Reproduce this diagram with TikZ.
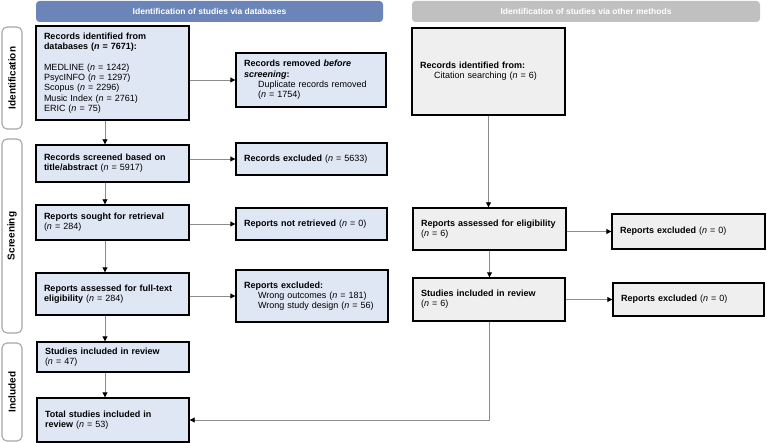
\documentclass[tikz,border=0pt]{standalone}
\usepackage{fontspec}
\setmainfont{Liberation Sans}
\usetikzlibrary{arrows.meta}
\definecolor{hdrblue}{HTML}{6B85B8}
\definecolor{hdrgray}{HTML}{C0C0C0}
\definecolor{boxblue}{HTML}{DFE6F4}
\definecolor{boxgray}{HTML}{EFEFEF}
\definecolor{lblline}{HTML}{A6A6A6}
\definecolor{conn}{HTML}{8C8C8C}
\newcommand{\nn}{\textit{n}}
\newcommand{\ind}{\hspace*{14pt}}
\begin{document}
\begin{tikzpicture}[x=1pt,y=-1pt,
  box/.style={draw=black, line width=1.4pt, rectangle, inner xsep=8pt, inner ysep=2pt,
    align=left, anchor=center, font=\fontsize{9}{10.3}\selectfont},
  bluebox/.style={box, fill=boxblue},
  graybox/.style={box, fill=boxgray},
  hdr/.style={rectangle, rounded corners=3.5pt, minimum height=21pt, inner sep=0pt,
    text=white, font=\fontsize{8.5}{10}\selectfont\bfseries},
  side/.style={draw=lblline, line width=1.1pt, fill=white, rectangle, rounded corners=5pt,
    minimum height=20pt, inner sep=0pt, rotate=90, font=\fontsize{10}{11}\selectfont\bfseries},
  arr/.style={draw=conn, line width=0.9pt, -{Triangle[length=5pt,width=5pt,color=black]}}]

\useasboundingbox (0,0) rectangle (767,443);

% column headers
\node[hdr, fill=hdrblue, minimum width=347pt] (hdb) at (209.5,11.5) {Identification of studies via databases};
\node[hdr, fill=hdrgray, minimum width=348pt] (hot) at (586,11.5) {Identification of studies via other methods};

% phase labels
\node[side, minimum width=102pt] (pid) at (12,78) {Identification};
\node[side, minimum width=194pt] (psc) at (12,236) {Screening};
\node[side, minimum width=98pt] (pin) at (12,392) {Included};

% databases column
\node[bluebox, text width=137pt, minimum height=94pt] (A1) at (112.5,73)
  {\textbf{Records identified from}\\\textbf{databases (\nn{} = 7671):}\\[10.3pt]
   MEDLINE (\nn{} = 1242)\\PsycINFO (\nn{} = 1297)\\Scopus (\nn{} = 2296)\\
   Music Index (\nn{} = 2761)\\ERIC (\nn{} = 75)};
\node[bluebox, text width=134pt, minimum height=54pt] (A2) at (311,80)
  {\textbf{Records removed \textit{before}}\\\textbf{\textit{screening}:}\\
   \ind Duplicate records removed\\\ind(\nn{} = 1754)};
\node[bluebox, text width=137pt, minimum height=37pt] (B1) at (112.5,163.5)
  {\textbf{Records screened based on}\\\textbf{title/abstract} (\nn{} = 5917)};
\node[bluebox, text width=135pt, minimum height=32pt] (B2) at (311.5,159)
  {\textbf{Records excluded} (\nn{} = 5633)};
\node[bluebox, text width=137pt, minimum height=35pt] (C1) at (112.5,222.5)
  {\textbf{Reports sought for retrieval}\\(\nn{} = 284)};
\node[bluebox, text width=135pt, minimum height=32pt] (C2) at (311.5,224)
  {\textbf{Reports not retrieved} (\nn{} = 0)};
\node[bluebox, text width=137pt, minimum height=42pt] (D1) at (112.5,294)
  {\textbf{Reports assessed for full-text}\\\textbf{eligibility} (\nn{} = 284)};
\node[bluebox, text width=136pt, minimum height=52pt] (D2) at (312,296)
  {\textbf{Reports excluded:}\\\ind Wrong outcomes (\nn{} = 181)\\\ind Wrong study design (\nn{} = 56)};
\node[bluebox, text width=136pt, minimum height=30pt] (E1) at (113,357)
  {\textbf{Studies included in review}\\(\nn{} = 47)};
\node[bluebox, text width=136pt, minimum height=44pt] (F1) at (113,420)
  {\textbf{Total studies included in}\\\textbf{review} (\nn{} = 53)};

% other methods column
\node[graybox, text width=137pt, minimum height=87pt] (G1) at (488.5,71.5)
  {\textbf{Records identified from:}\\\ind Citation searching (\nn{} = 6)};
\node[graybox, text width=137pt, minimum height=42pt] (H1) at (489.5,229)
  {\textbf{Reports assessed for eligibility}\\(\nn{} = 6)};
\node[graybox, text width=137pt, minimum height=35pt] (H2) at (688.5,231.5)
  {\textbf{Reports excluded} (\nn{} = 0)};
\node[graybox, text width=136pt, minimum height=43pt] (I1) at (489,299.5)
  {\textbf{Studies included in review}\\(\nn{} = 6)};
\node[graybox, text width=135pt, minimum height=33pt] (I2) at (688.5,299.5)
  {\textbf{Reports excluded} (\nn{} = 0)};

% connectors, databases column
\draw[arr] ([xshift=-7.5pt]A1.south) -- ([xshift=-7.5pt]B1.north);
\draw[arr] ([xshift=-7.5pt]B1.south) -- ([xshift=-7.5pt]C1.north);
\draw[arr] ([xshift=-7.5pt]C1.south) -- ([xshift=-7.5pt]D1.north);
\draw[arr] ([xshift=-7.5pt]D1.south) -- ([xshift=-8pt]E1.north);
\draw[arr] ([xshift=-8pt]E1.south) -- ([xshift=-8pt]F1.north);
\draw[arr] (A2.west -| A1.east) -- (A2.west);
\draw[arr] (B2.west -| B1.east) -- (B2.west);
\draw[arr] (C2.west -| C1.east) -- (C2.west);
\draw[arr] (D2.west -| D1.east) -- (D2.west);

% connectors, other methods column
\draw[arr] (G1.south) -- (G1.south |- H1.north);
\draw[arr] (H1.south) -- (H1.south |- I1.north);
\draw[arr] (H2.west -| H1.east) -- (H2.west);
\draw[arr] (I2.west -| I1.east) -- (I2.west);
\draw[arr] (I1.south) |- (F1.east);
\end{tikzpicture}
\end{document}
